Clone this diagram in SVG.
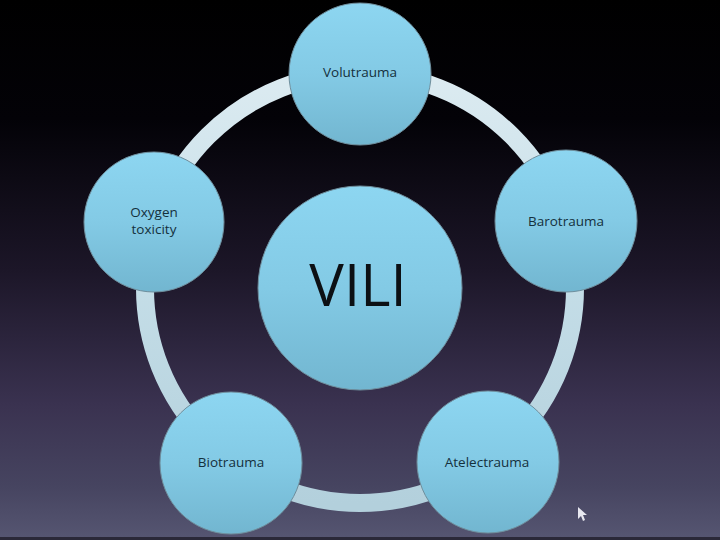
<svg xmlns="http://www.w3.org/2000/svg" width="720" height="540" viewBox="0 0 720 540">
  <defs>
    <linearGradient id="bg" x1="0" y1="0" x2="0" y2="1">
      <stop offset="0" stop-color="#000000"/>
      <stop offset="0.22" stop-color="#030207"/>
      <stop offset="0.5" stop-color="#1c1628"/>
      <stop offset="0.75" stop-color="#3a3250"/>
      <stop offset="0.9" stop-color="#464460"/>
      <stop offset="1" stop-color="#565672"/>
    </linearGradient>
    <linearGradient id="ball" x1="0" y1="0" x2="0" y2="1">
      <stop offset="0" stop-color="#8dd6f1"/>
      <stop offset="0.5" stop-color="#83cae5"/>
      <stop offset="1" stop-color="#72b6d0"/>
    </linearGradient>
    <linearGradient id="ring" x1="0" y1="0" x2="0" y2="1">
      <stop offset="0" stop-color="#dcebf1"/>
      <stop offset="0.5" stop-color="#c4dde7"/>
      <stop offset="1" stop-color="#b3d0dc"/>
    </linearGradient>
    <style>
      .node circle { fill: url(#ball); stroke: #6f8e9c; stroke-width: 1; }
      .lbl { font-family: "Open Sans", "Liberation Sans", sans-serif; font-size: 13.5px; fill: #14303c; text-anchor: middle; }
      .big { font-family: "Open Sans", "Liberation Sans", sans-serif; font-size: 58px; font-weight: 400; fill: #0c1014; text-anchor: middle; }
    </style>
  </defs>
  <rect width="720" height="540" fill="url(#bg)"/>
  <rect y="537" width="720" height="3" fill="#2a2838"/>
  <g id="connectors">
    <circle cx="360" cy="288" r="215" fill="none" stroke="url(#ring)" stroke-width="18"/>
  </g>
  <g id="vili" class="node">
    <circle cx="360" cy="288" r="102"/>
    <text class="big" x="358" y="306">VILI</text>
  </g>
  <g id="volutrauma" class="node">
    <circle cx="360" cy="74" r="71"/>
    <text class="lbl" x="360" y="77">Volutrauma</text>
  </g>
  <g id="barotrauma" class="node">
    <circle cx="566" cy="221" r="71"/>
    <text class="lbl" x="566" y="226">Barotrauma</text>
  </g>
  <g id="atelectrauma" class="node">
    <circle cx="488" cy="462" r="71"/>
    <text class="lbl" x="487" y="467">Atelectrauma</text>
  </g>
  <g id="biotrauma" class="node">
    <circle cx="231" cy="463" r="71"/>
    <text class="lbl" x="231" y="467">Biotrauma</text>
  </g>
  <g id="oxygen" class="node">
    <circle cx="154" cy="222" r="70"/>
    <text class="lbl" x="154" y="217">Oxygen</text>
    <text class="lbl" x="154" y="234">toxicity</text>
  </g>
  <path d="M578 507 L578 519 L581 516 L583 521 L585 520 L583 515 L587 515 Z" fill="#e8e8f0"/>
</svg>
